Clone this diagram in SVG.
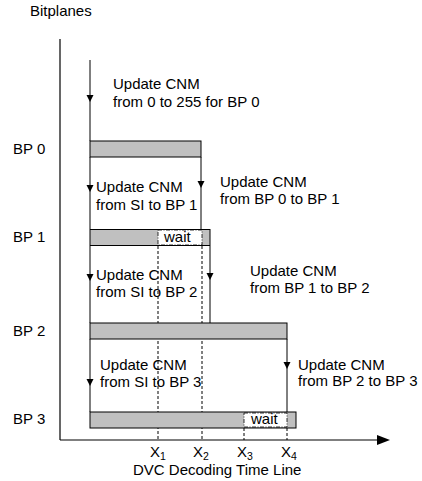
<svg xmlns="http://www.w3.org/2000/svg" width="422" height="481" viewBox="0 0 422 481">
<style>
text{font-family:"Liberation Sans",Arial,sans-serif;font-size:15px;fill:#000}
.ax{stroke:#000;stroke-width:1.2;fill:none}
.ln{stroke:#000;stroke-width:1;fill:none}
.dash{stroke:#000;stroke-width:1;stroke-dasharray:3,2;fill:none}
.bar{fill:#c0c0c0;stroke:#000;stroke-width:1}
.wait{fill:#fff;stroke:#000;stroke-width:0.8;stroke-dasharray:4,1.5,1,1.5}
.ah{fill:#000}
</style>
<defs>
<path id="ah" d="M-3.5,-7 L3.5,-7 L0,0 Z"/>
</defs>
<rect width="422" height="481" fill="#fff"/>
<g id="axes">
<line class="ax" x1="60" y1="39" x2="60" y2="440"/>
<line class="ax" x1="60" y1="440" x2="378" y2="440"/>
<path d="M390,440 L377,435 L377,445 Z" fill="#000"/>
<text x="30" y="16">Bitplanes</text>
<text x="133" y="475">DVC Decoding Time Line</text>
</g>
<g id="guides">
<line class="dash" x1="158" y1="246" x2="158" y2="440"/>
<line class="dash" x1="202" y1="246" x2="202" y2="440"/>
<line class="dash" x1="244" y1="428" x2="244" y2="440"/>
<line class="dash" x1="287" y1="428" x2="287" y2="440"/>
<text x="150" y="457">X<tspan dy="3" style="font-size:10.5px">1</tspan></text>
<text x="193" y="457">X<tspan dy="3" style="font-size:10.5px">2</tspan></text>
<text x="237" y="457">X<tspan dy="3" style="font-size:10.5px">3</tspan></text>
<text x="281" y="457">X<tspan dy="3" style="font-size:10.5px">4</tspan></text>
</g>
<g id="bp0">
<text x="13" y="154">BP 0</text>
<rect class="bar" x="90" y="141" width="111" height="16"/>
</g>
<g id="bp1">
<text x="13" y="242">BP 1</text>
<rect class="bar" x="90" y="229.5" width="120" height="16"/>
<rect class="wait" x="158" y="230" width="44" height="15"/>
<text x="164" y="242">wait</text>
</g>
<g id="bp2">
<text x="13" y="336">BP 2</text>
<rect class="bar" x="90" y="323" width="197" height="16"/>
</g>
<g id="bp3">
<text x="13" y="424">BP 3</text>
<rect class="bar" x="90" y="412" width="206" height="16"/>
<rect class="wait" x="244" y="413" width="43" height="14"/>
<text x="251" y="424">wait</text>
</g>
<g id="connectors">
<line class="ln" x1="90" y1="60" x2="90" y2="141"/>
<use href="#ah" class="ah" x="90" y="102"/>
<line class="ln" x1="90" y1="157" x2="90" y2="229"/>
<use href="#ah" class="ah" x="90" y="192"/>
<line class="ln" x1="90" y1="246" x2="90" y2="323"/>
<use href="#ah" class="ah" x="90" y="281"/>
<line class="ln" x1="90" y1="339" x2="90" y2="412"/>
<use href="#ah" class="ah" x="90" y="386"/>
<line class="ln" x1="201" y1="157" x2="201" y2="229"/>
<use href="#ah" class="ah" x="201" y="188"/>
<line class="ln" x1="210" y1="246" x2="210" y2="323"/>
<use href="#ah" class="ah" x="210" y="280"/>
<line class="ln" x1="287" y1="339" x2="287" y2="412"/>
<use href="#ah" class="ah" x="287" y="369"/>
</g>
<g id="labels">
<text x="113" y="89">Update CNM</text>
<text x="113" y="107">from 0 to 255 for BP 0</text>
<text x="96" y="192">Update CNM</text>
<text x="96" y="210">from SI to BP 1</text>
<text x="220" y="187">Update CNM</text>
<text x="220" y="204">from BP 0 to BP 1</text>
<text x="96" y="280">Update CNM</text>
<text x="96" y="297">from SI to BP 2</text>
<text x="250" y="276">Update CNM</text>
<text x="250" y="293">from BP 1 to BP 2</text>
<text x="100" y="370">Update CNM</text>
<text x="100" y="387">from SI to BP 3</text>
<text x="298" y="370">Update CNM</text>
<text x="298" y="386">from BP 2 to BP 3</text>
</g>
</svg>
